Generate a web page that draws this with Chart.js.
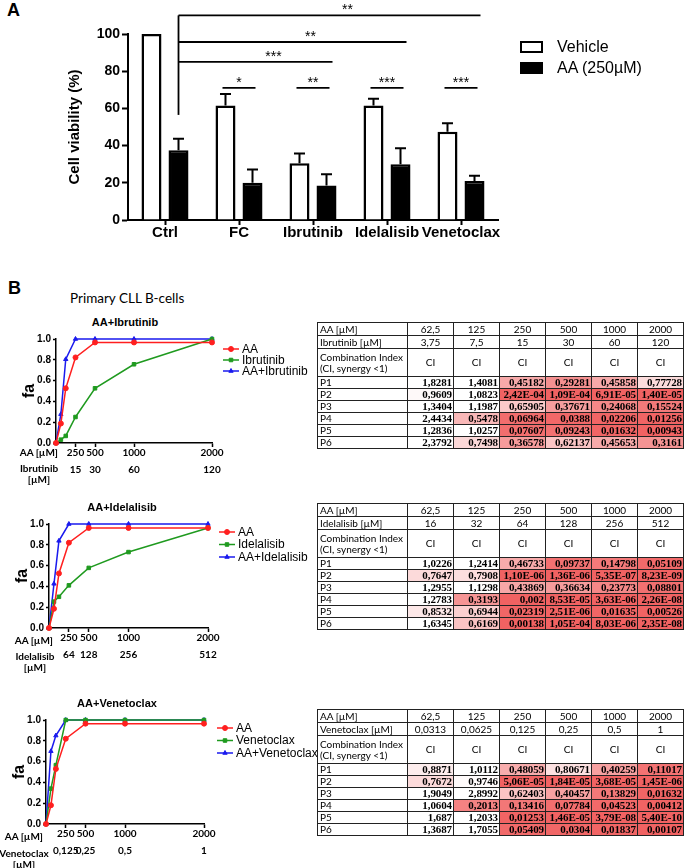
<!DOCTYPE html>
<html>
<head>
<meta charset="utf-8">
<title>Cell viability and combination index</title>
<script src="https://cdn.jsdelivr.net/npm/chart.js@4.4.1/dist/chart.umd.min.js"></script>
<style>
  body { margin: 0; background: #fff; }
  #page { position: relative; width: 685px; height: 868px; overflow: hidden; font-family: 'Liberation Sans', Arial, sans-serif; color: #000; }
  .abs { position: absolute; }
  .panel-letter { font-weight: bold; font-size: 18px; line-height: 18px; }
  .subtitle { font-family: Lato, sans-serif; font-size: 13.5px; line-height: 14px; white-space: nowrap; }
  .chart-title { font-weight: bold; font-size: 11px; line-height: 12px; text-align: center; width: 140px; }
  .row-label { font-family: Lato, sans-serif; font-weight: bold; font-size: 10px; line-height: 11px; white-space: nowrap; }
  .bar-legend .item { display: flex; align-items: center; height: 21px; font-size: 16px; white-space: nowrap; }
  .bar-legend .box { width: 23px; height: 12px; border: 2.5px solid #000; box-sizing: border-box; margin-right: 14px; }
  table.ci { position: absolute; left: 317px; border-collapse: collapse; table-layout: fixed; width: 366px; }
  table.ci td { border: 1px solid #222; padding: 0 2px; height: 11px; line-height: 11px; font-family: Lato, sans-serif; font-size: 10px; text-align: center; white-space: nowrap; overflow: hidden; }
  table.ci tr.head td { height: 12px; }
  table.ci tr.ci-row td { height: 27px; }
  table.ci td.lab { text-align: left; }
  table.ci td.val { text-align: right; padding: 0 1px; font-family: 'Liberation Serif', 'Times New Roman', serif; font-weight: bold; font-size: 11px; letter-spacing: -0.1px; }
</style>
</head>
<body>
<div id="page">
  <div class="abs panel-letter" style="left:7px; top:1px;">A</div>
  <canvas id="barChart" class="abs" width="685" height="260" style="left:0; top:0;"></canvas>
  <div id="barLegend" class="abs bar-legend" style="left:520px; top:36.5px;"></div>

  <div class="abs panel-letter" style="left:8px; top:279px;">B</div>
  <div class="abs subtitle" style="left:70px; top:291px;">Primary CLL B-cells</div>

  <div class="abs chart-title" style="left:55px; top:316px;">AA+Ibrutinib</div>
  <canvas id="faIbrutinib" class="abs" width="320" height="153" style="left:0; top:330px;"></canvas>
  <div class="abs row-label" style="left:0; top:447px; width:58px; text-align:right;">AA [µM]</div>
  <div class="abs row-label" style="left:9px; top:463px; width:60px; text-align:center;">Ibrutinib<br>[µM]</div>

  <div class="abs chart-title" style="left:52px; top:501px;">AA+Idelalisib</div>
  <canvas id="faIdelalisib" class="abs" width="320" height="153" style="left:0; top:515px;"></canvas>
  <div class="abs row-label" style="left:0; top:634.5px; width:53px; text-align:right;">AA [µM]</div>
  <div class="abs row-label" style="left:5px; top:651px; width:60px; text-align:center;">Idelalisib<br>[µM]</div>

  <div class="abs chart-title" style="left:47px; top:697px;">AA+Venetoclax</div>
  <canvas id="faVenetoclax" class="abs" width="320" height="153" style="left:0; top:711px;"></canvas>
  <div class="abs row-label" style="left:0; top:830.5px; width:43px; text-align:right;">AA [µM]</div>
  <div class="abs row-label" style="left:-16px; top:847.5px; width:80px; text-align:center;">Venetoclax<br>[µM]</div>

  <table id="ciIbrutinibTable" class="ci" style="top:322px;"></table>
  <table id="ciIdelalisibTable" class="ci" style="top:503px;"></table>
  <table id="ciVenetoclaxTable" class="ci" style="top:709px;"></table>
</div>

<script>
// --- Panel A data ---
const barCategories = ['Ctrl', 'FC', 'Ibrutinib', 'Idelalisib', 'Venetoclax'];
const seriesLabels = ['Vehicle', 'AA (250µM)'];
const vehicleMean = [100, 61.5, 30.5, 61.5, 47.5];
const vehicleSem = [0, 6.3, 5.2, 3.7, 4.5];
const aaMean = [37.5, 20, 18.5, 30, 21];
const aaSem = [6.2, 7.2, 6.1, 8.6, 2.8];

// significance vs Ctrl + AA, and vehicle vs AA within each treatment
const sigVsCtrl = ['Venetoclax', 'Idelalisib', 'Ibrutinib'];
const sigVsCtrlStars = ['**', '**', '***'];
const sigVsCtrlLevel = [110, 95.7, 85];
const ctrlStemBottom = 56.5;
const sigWithinStars = ['', '*', '**', '***', '***'];
const sigWithinLevel = 71;

// --- Panel B data ---
const aaDoses = [0, 62.5, 125, 250, 500, 1000, 2000];
const tickDoses = [250, 500, 1000, 2000];
const ibrutinibTicks = ['15', '30', '60', '120'];
const idelalisibTicks = ['64', '128', '256', '512'];
const venetoclaxTicks = ['0,125', '0,25', '0,5', '1'];

const faAA1 = [0, 0.187, 0.526, 0.823, 0.967, 0.967, 0.967];
const faIbrutinib = [0, 0.032, 0.068, 0.25, 0.526, 0.757, 1.0];
const faAAIbrutinib = [0, 0.277, 0.805, 1.0, 1.0, 1.0, 1.0];

const faAA2 = [0, 0.185, 0.525, 0.82, 0.962, 0.962, 0.962];
const faIdelalisib = [0, 0.254, 0.30, 0.41, 0.578, 0.73, 0.962];
const faAAIdelalisib = [0, 0.425, 0.838, 1.0, 1.0, 1.0, 1.0];

const faAA3 = [0, 0.18, 0.53, 0.82, 0.965, 0.965, 0.965];
const faVenetoclax = [0, 0.34, 0.566, 1.0, 1.0, 1.0, 1.0];
const faAAVenetoclax = [0, 0.70, 0.85, 1.0, 1.0, 1.0, 1.0];

// --- CI tables ---
const tableAA = ['62,5', '125', '250', '500', '1000', '2000'];
const tableIbrutinib = ['3,75', '7,5', '15', '30', '60', '120'];
const tableIdelalisib = ['16', '32', '64', '128', '256', '512'];
const tableVenetoclax = ['0,0313', '0,0625', '0,125', '0,25', '0,5', '1'];
const patients = ['P1', 'P2', 'P3', 'P4', 'P5', 'P6'];

const ciIbrutinib = [
    ['1,8281', '1,4081', '0,45182', '0,29281', '0,45858', '0,77728'],
    ['0,9609', '1,0823', '2,42E-04', '1,09E-04', '6,91E-05', '1,40E-05'],
    ['1,3404', '1,1987', '0,65905', '0,37671', '0,24068', '0,15524'],
    ['2,4434', '0,5478', '0,06964', '0,0388', '0,02206', '0,01256'],
    ['1,2836', '1,0257', '0,07607', '0,09243', '0,01632', '0,00943'],
    ['2,3792', '0,7498', '0,36578', '0,62137', '0,45653', '0,3161']
];
const ciIdelalisib = [
    ['1,0226', '1,2414', '0,46733', '0,09737', '0,14798', '0,05109'],
    ['0,7647', '0,7908', '1,10E-06', '1,36E-06', '5,35E-07', '8,23E-09'],
    ['1,2955', '1,1298', '0,43869', '0,36634', '0,23773', '0,08801'],
    ['1,2783', '0,3193', '0,002', '8,53E-05', '3,63E-06', '2,26E-08'],
    ['0,8532', '0,6944', '0,02319', '2,51E-06', '0,01635', '0,00526'],
    ['1,6345', '0,6169', '0,00138', '1,05E-04', '8,03E-06', '2,35E-08']
];
const ciVenetoclax = [
    ['0,8871', '1,0112', '0,48059', '0,80671', '0,40259', '0,11017'],
    ['0,7672', '0,9746', '5,06E-05', '1,84E-05', '3,68E-05', '1,45E-06'],
    ['1,9049', '2,8992', '0,62403', '0,40457', '0,13829', '0,01632'],
    ['1,0604', '0,2013', '0,13416', '0,07784', '0,04523', '0,00412'],
    ['1,687', '1,2033', '0,01253', '1,46E-05', '3,79E-08', '5,40E-10'],
    ['1,3687', '1,7055', '0,05409', '0,0304', '0,01837', '0,00107']
];

const FONT = "'Liberation Sans', Arial, sans-serif";
const RED = '#ff1f1f';
const GREEN = '#1f9a1f';
const BLUE = '#1a1aee';

// --- Panel A: bars, error bars, significance ---
const barAnnotations = {
    id: 'barAnnotations',
    afterDraw(chart) {
        const { ctx, scales: { y } } = chart;
        const vehBars = chart.getDatasetMeta(0).data;
        const aaBars = chart.getDatasetMeta(1).data;
        ctx.save();
        ctx.strokeStyle = '#000';
        ctx.fillStyle = '#000';

        // error bars, upward only
        ctx.lineWidth = 2;
        [[vehBars, vehicleMean, vehicleSem], [aaBars, aaMean, aaSem]].forEach(([bars, mean, sem]) => {
            bars.forEach((bar, i) => {
                if (!sem[i]) return;
                const top = y.getPixelForValue(mean[i] + sem[i]);
                ctx.beginPath();
                ctx.moveTo(bar.x, bar.y);
                ctx.lineTo(bar.x, top);
                ctx.moveTo(bar.x - 5.5, top);
                ctx.lineTo(bar.x + 5.5, top);
                ctx.stroke();
            });
        });

        ctx.font = '14px ' + FONT;
        ctx.textAlign = 'center';
        ctx.textBaseline = 'alphabetic';
        ctx.lineWidth = 1.8;

        // brackets from Ctrl + AA
        const x0 = aaBars[0].x;
        ctx.beginPath();
        ctx.moveTo(x0, y.getPixelForValue(ctrlStemBottom));
        ctx.lineTo(x0, y.getPixelForValue(Math.max(...sigVsCtrlLevel)));
        ctx.stroke();
        sigVsCtrl.forEach((name, k) => {
            const idx = barCategories.indexOf(name);
            const yy = y.getPixelForValue(sigVsCtrlLevel[k]);
            const x1 = aaBars[idx].x + 6;
            ctx.beginPath();
            ctx.moveTo(x0, yy);
            ctx.lineTo(x1, yy);
            ctx.stroke();
            ctx.fillText(sigVsCtrlStars[k], (x0 + x1) / 2 + 18, yy - 1);
        });

        // vehicle vs AA within treatment
        const yw = y.getPixelForValue(sigWithinLevel);
        sigWithinStars.forEach((stars, i) => {
            if (!stars) return;
            const xa = vehBars[i].x - 3;
            const xb = aaBars[i].x + 3;
            ctx.beginPath();
            ctx.moveTo(xa, yw);
            ctx.lineTo(xb, yw);
            ctx.stroke();
            ctx.fillText(stars, (xa + xb) / 2, yw - 1);
        });
        ctx.restore();
    }
};

new Chart(document.getElementById('barChart'), {
    type: 'bar',
    data: {
        labels: barCategories,
        datasets: [
            { label: seriesLabels[0], data: vehicleMean, backgroundColor: '#fff', borderColor: '#000', borderWidth: 2.5 },
            { label: seriesLabels[1], data: aaMean, backgroundColor: '#000', borderColor: '#000', borderWidth: 2.5 }
        ]
    },
    options: {
        responsive: false,
        animation: false,
        categoryPercentage: 0.73,
        barPercentage: 0.74,
        layout: { padding: { left: 66, right: 187, top: 34, bottom: 0 } },
        plugins: { legend: { display: false }, tooltip: { enabled: false } },
        scales: {
            x: {
                ticks: { color: '#000', font: { family: FONT, size: 15, weight: 'bold' }, padding: -1, maxRotation: 0, autoSkip: false },
                grid: { offset: false, drawOnChartArea: false, tickLength: 5, tickWidth: 2, color: '#000' },
                border: { color: '#000', width: 2 },
                afterFit: s => { s.height = 40; }
            },
            y: {
                min: 0, max: 100,
                ticks: { stepSize: 20, color: '#000', font: { family: FONT, size: 14, weight: 'bold' }, padding: 2 },
                grid: { drawOnChartArea: false, tickLength: 6, tickWidth: 2, color: '#000' },
                border: { color: '#000', width: 2 },
                title: { display: true, text: 'Cell viability (%)', color: '#000', font: { family: FONT, size: 15, weight: 'bold' }, padding: 0 },
                afterFit: s => { s.width = 62; }
            }
        }
    },
    plugins: [barAnnotations]
});

// HTML legend for panel A
const barLegend = document.getElementById('barLegend');
seriesLabels.forEach((label, i) => {
    const item = document.createElement('div');
    item.className = 'item';
    item.innerHTML = `<span class="box" style="background:${i === 0 ? '#fff' : '#000'}"></span>${label}`;
    barLegend.appendChild(item);
});

// --- Panel B: fa curves ---
const CANVAS_W = 320;

const faLegend = {
    id: 'faLegend',
    afterDraw(chart, args, opts) {
        const ctx = chart.ctx;
        ctx.save();
        ctx.font = '12px ' + FONT;
        ctx.textBaseline = 'middle';
        ctx.textAlign = 'left';
        chart.data.datasets.forEach((ds, i) => {
            const yy = opts.top + i * opts.gap;
            ctx.strokeStyle = ds.borderColor;
            ctx.fillStyle = ds.borderColor;
            ctx.lineWidth = 1.5;
            ctx.beginPath();
            ctx.moveTo(opts.left, yy);
            ctx.lineTo(opts.left + 16, yy);
            ctx.stroke();
            ctx.lineWidth = 1;
            Chart.helpers.drawPoint(ctx, { pointStyle: ds.pointStyle, radius: 2.5, borderWidth: 1, rotation: 0 }, opts.left + 8, yy);
            ctx.fillStyle = '#000';
            ctx.fillText(ds.label, opts.left + 19, yy + 0.5);
        });
        ctx.restore();
    }
};

function toPoints(values) {
    return aaDoses.map((d, i) => ({ x: d, y: values[i] }));
}

function faDataset(label, values, color, style) {
    return {
        label,
        data: toPoints(values),
        borderColor: color,
        backgroundColor: color,
        pointBackgroundColor: color,
        pointBorderColor: color,
        pointStyle: style,
        pointRadius: 2.5,
        pointBorderWidth: 1,
        borderWidth: 1.5,
        tension: 0,
        clip: false
    };
}

function makeFaChart(id, datasets, drugTicks, plotLeft, plotRight, legend) {
    return new Chart(document.getElementById(id), {
        type: 'line',
        data: { datasets },
        options: {
            responsive: false,
            animation: false,
            layout: { padding: { left: plotLeft - 36, right: CANVAS_W - plotRight, top: 9, bottom: 0 } },
            plugins: { legend: { display: false }, tooltip: { enabled: false }, faLegend: legend },
            scales: {
                x: {
                    type: 'linear', min: 0, max: 2000,
                    afterBuildTicks: s => { s.ticks = tickDoses.map(v => ({ value: v })); },
                    ticks: {
                        callback: v => [String(v), drugTicks[tickDoses.indexOf(v)]],
                        color: '#000',
                        font: { family: 'Lato, sans-serif', size: 10, weight: 'bold', lineHeight: 1.65 },
                        padding: -2, maxRotation: 0, autoSkip: false
                    },
                    grid: { drawOnChartArea: false, tickLength: 4, tickWidth: 1.5, color: '#000' },
                    border: { color: '#000', width: 1.5 },
                    afterFit: s => { s.height = 40; }
                },
                y: {
                    min: 0, max: 1,
                    ticks: { stepSize: 0.2, callback: v => v.toFixed(1), color: '#000', font: { family: FONT, size: 10, weight: 'bold' }, padding: 2 },
                    grid: { drawOnChartArea: false, tickLength: 3, tickWidth: 1.5, color: '#000' },
                    border: { color: '#000', width: 1.5 },
                    title: { display: true, text: 'fa', color: '#000', font: { family: FONT, size: 16, weight: 'bold' }, padding: 0 },
                    afterFit: s => { s.width = 36; }
                }
            }
        },
        plugins: [faLegend]
    });
}

makeFaChart('faIbrutinib', [
    faDataset('AA', faAA1, RED, 'circle'),
    faDataset('Ibrutinib', faIbrutinib, GREEN, 'rect'),
    faDataset('AA+Ibrutinib', faAAIbrutinib, BLUE, 'triangle')
], ibrutinibTicks, 56, 212, { left: 223, top: 19, gap: 11 });

makeFaChart('faIdelalisib', [
    faDataset('AA', faAA2, RED, 'circle'),
    faDataset('Idelalisib', faIdelalisib, GREEN, 'rect'),
    faDataset('AA+Idelalisib', faAAIdelalisib, BLUE, 'triangle')
], idelalisibTicks, 49, 208, { left: 219, top: 17, gap: 12.5 });

makeFaChart('faVenetoclax', [
    faDataset('AA', faAA3, RED, 'circle'),
    faDataset('Venetoclax', faVenetoclax, GREEN, 'rect'),
    faDataset('AA+Venetoclax', faAAVenetoclax, BLUE, 'triangle')
], venetoclaxTicks, 46, 204, { left: 217, top: 17, gap: 12.5 });

// --- CI tables ---
function ciColor(text) {
    const v = parseFloat(text.replace(',', '.'));
    const t = Math.max(0, Math.min(1, 1 - v));
    const r = Math.round(255 - t * (255 - 241));
    const g = Math.round(255 - t * (255 - 98));
    return `rgb(${r},${g},${g})`;
}

function renderTable(id, drugLabel, drugDoses, ci) {
    const table = document.getElementById(id);
    let html = '<colgroup><col style="width:90px">' + tableAA.map(() => '<col style="width:46px">').join('') + '</colgroup>';
    html += '<tr class="head"><td class="lab">AA [µM]</td>' + tableAA.map(v => `<td>${v}</td>`).join('') + '</tr>';
    html += `<tr class="head"><td class="lab">${drugLabel} [µM]</td>` + drugDoses.map(v => `<td>${v}</td>`).join('') + '</tr>';
    html += '<tr class="ci-row"><td class="lab" style="white-space:normal">Combination Index<br>(CI, synergy &lt;1)</td>' + tableAA.map(() => '<td>CI</td>').join('') + '</tr>';
    ci.forEach((row, i) => {
        html += `<tr><td class="lab">${patients[i]}</td>` + row.map(v => `<td class="val" style="background:${ciColor(v)}">${v}</td>`).join('') + '</tr>';
    });
    table.innerHTML = html;
}

renderTable('ciIbrutinibTable', 'Ibrutinib', tableIbrutinib, ciIbrutinib);
renderTable('ciIdelalisibTable', 'Idelalisib', tableIdelalisib, ciIdelalisib);
renderTable('ciVenetoclaxTable', 'Venetoclax', tableVenetoclax, ciVenetoclax);
</script>
</body>
</html>
